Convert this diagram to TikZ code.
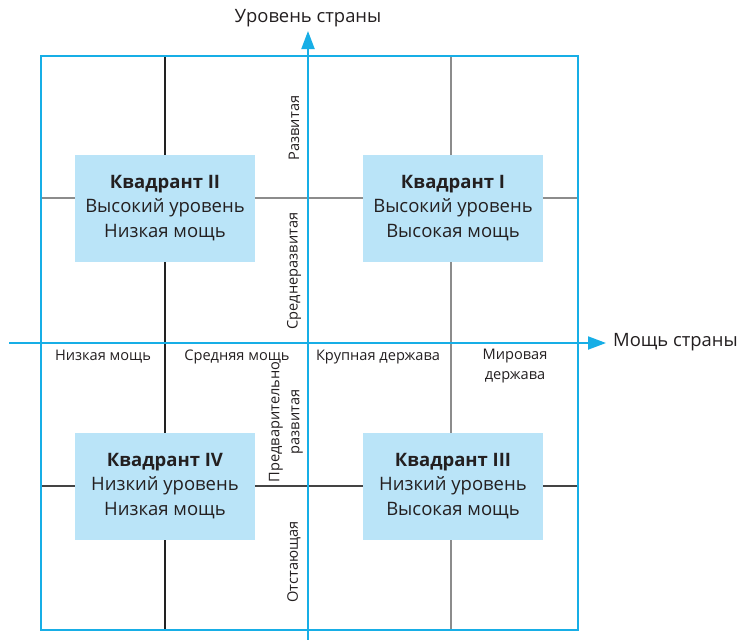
\documentclass[tikz,border=0pt]{standalone}
\usepackage{fontspec}
\setmainfont{Open Sans}
\usetikzlibrary{arrows.meta}
\definecolor{axisblue}{HTML}{17AEE6}
\definecolor{boxfill}{HTML}{BAE4F8}
\definecolor{txt}{HTML}{231F20}
\definecolor{gridA}{HTML}{222222}
\definecolor{gridB}{HTML}{8C8C8C}
\definecolor{gridC}{HTML}{444444}
\tikzset{
  axisline/.style={draw=axisblue, line width=2pt},
  axisarrow/.style={axisline, -{Triangle[length=18pt,width=13pt]}},
  gridline/.style={line width=1.1pt},
  qbox/.style={fill=boxfill, minimum width=180pt, minimum height=107pt, inner sep=0pt,
    align=center, text=txt, font=\fontsize{18.5}{24.5}\selectfont},
  lbl/.style={text=txt, font=\fontsize{14.6}{20}\selectfont, align=center, inner sep=0pt},
  vlbl/.style={lbl, rotate=90},
  axislbl/.style={text=txt, font=\fontsize{18.4}{21}\selectfont, inner sep=0pt}
}
\begin{document}
\begin{tikzpicture}[x=1pt, y=-1pt]
\useasboundingbox (0,0) rectangle (740,640);
% grid coordinates
\coordinate (vAt) at (165,56);  \coordinate (vAb) at (165,630);
\coordinate (vBt) at (451,56);  \coordinate (vBb) at (451,630);
\coordinate (hAl) at (40,198);  \coordinate (hAr) at (578,198);
\coordinate (hBl) at (40,486);  \coordinate (hBr) at (578,486);
\draw[gridline, gridA] (vAt) -- (vAb);
\draw[gridline, gridB] (vBt) -- (vBb);
\draw[gridline, gridB] (hAl) -- (hAr);
\draw[gridline, gridC] (hBl) -- (hBr);
% outer frame
\coordinate (fTL) at (40.5,56);
\coordinate (fBR) at (577.5,629.5);
\draw[axisline] (fTL) rectangle (fBR);
% axes
\coordinate (yS) at (308,640);
\coordinate (yE) at (308,31);
\coordinate (xS) at (9,343);
\coordinate (xE) at (606,343);
\draw[axisarrow] (yS) -- (yE);
\draw[axisarrow] (xS) -- (xE);
\node[axislbl] (ylab) at (308,18) {Уровень страны};
\node[axislbl, anchor=west] (xlab) at (613,342) {Мощь страны};
% quadrant boxes
\node[qbox] (q2) at (165,208) {\textbf{Квадрант II}\\Высокий уровень\\Низкая мощь};
\node[qbox] (q1) at (453,208) {\textbf{Квадрант I}\\Высокий уровень\\Высокая мощь};
\node[qbox] (q4) at (165,486) {\textbf{Квадрант IV}\\Низкий уровень\\Низкая мощь};
\node[qbox] (q3) at (453,486) {\textbf{Квадрант III}\\Низкий уровень\\Высокая мощь};
% power labels
\node[lbl] (p1) at (103,357) {Низкая мощь};
\node[lbl] (p2) at (237,357) {Средняя мощь};
\node[lbl] (p3) at (378,357) {Крупная держава};
\node[lbl, anchor=north] (p4) at (515,349) {Мировая\\держава};
% level labels
\node[vlbl] (l1) at (294,128) {Развитая};
\node[vlbl] (l2) at (294,271) {Среднеразвитая};
\node[vlbl] (l3) at (286,422) {Предварительно\\развитая};
\node[vlbl] (l4) at (294,562) {Отстающая};
\end{tikzpicture}
\end{document}
